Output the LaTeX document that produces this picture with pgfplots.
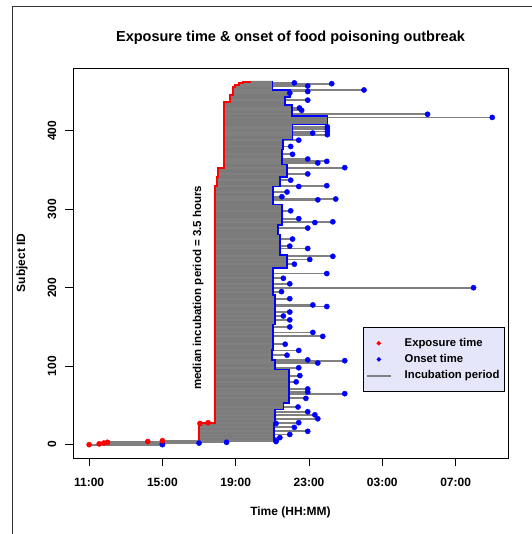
\documentclass[border=0pt]{standalone}
\usepackage{pgfplots}
\usepackage{pgfplotstable}
\pgfplotsset{compat=1.18}
\usepackage{fontspec}
\setmainfont{Liberation Sans}
\definecolor{lavender}{RGB}{230,230,250}
\definecolor{linegray}{RGB}{123,123,123}
\definecolor{segray}{RGB}{128,128,128}

% subjects whose incubation line sticks out of the dense block: id, exposure (h), onset (h); 24 = midnight
\pgfplotstableread{
id e o
0 11.00 15.00
1 11.55 15.00
2 11.80 17.00
3 12.00 18.50
4 14.20 21.20
5 15.00 21.20
9 17.00 21.41
13 17.00 21.95
17 17.00 22.93
22 17.00 22.20
27 17.05 21.20
28 17.49 22.44
33 17.87 23.48
38 17.87 23.32
42 17.87 22.93
48 17.87 22.40
59 17.87 22.83
65 17.87 24.95
67 17.87 22.93
71 17.87 22.93
80 17.87 22.30
88 17.87 22.50
98 17.87 22.44
104 17.87 23.48
107 17.87 24.95
108 17.87 22.93
114 17.87 21.80
120 17.87 22.44
128 17.87 21.70
138 17.87 23.75
143 17.87 23.21
150 17.87 21.95
159 17.87 21.95
164 17.87 21.60
169 17.87 21.95
176 17.87 23.97
178 17.87 23.21
186 17.87 21.95
195 17.87 21.50
200 17.87 31.98
205 17.87 21.95
212 17.87 21.60
218 17.87 23.97
230 17.87 22.20
236 17.87 23.04
240 17.87 24.30
250 17.87 22.93
253 17.87 21.95
262 17.87 22.10
276 17.87 22.93
283 17.87 23.32
284 17.87 24.30
288 17.87 22.44
298 17.87 22.00
312 17.87 23.48
313 17.87 24.46
316 17.87 21.52
322 17.87 21.80
329 17.87 22.44
330 17.98 23.97
337 17.98 22.00
345 18.03 22.93
353 18.36 24.95
359 18.36 23.48
361 18.36 23.97
364 18.36 22.93
370 18.36 22.10
380 18.36 22.00
388 18.36 22.44
395 18.36 24.00
397 18.36 23.20
399 18.36 24.00
402 18.36 24.00
405 18.36 24.00
417 18.36 33.00
421 18.36 29.47
426 18.36 22.60
429 18.36 22.48
439 18.68 22.93
448 18.85 21.95
450 18.85 22.93
452 18.85 26.00
457 18.96 22.93
460 19.17 24.24
461 19.39 22.20
}\prot

\pgfplotstableread{
id e
0 11.00
1 11.55
2 11.80
3 12.00
4 14.20
5 15.00
27 17.05
28 17.49
}\early

\begin{document}
\begin{tikzpicture}
\path[use as bounding box] (-73pt,-76pt) rectangle (458pt,458pt);
\draw[line width=0.8pt, black!80] (-61pt,-80pt) -- (-61pt,452pt) -- (470pt,452pt);
\begin{axis}[
  at={(0pt,0pt)}, anchor=south west,
  scale only axis, width=435pt, height=390pt,
  xmin=10.12, xmax=33.86, ymin=-17, ymax=480,
  axis line style={line width=0.8pt},
  tick style={black, line width=0.8pt},
  tick align=outside, major tick length=8pt,
  xtick pos=bottom, ytick pos=left,
  xtick={11,15,19,23,27,31},
  xticklabels={11:00,15:00,19:00,23:00,03:00,07:00},
  ytick={0,100,200,300,400},
  /pgf/number format/assume math mode=true,
  ticklabel style={font=\bfseries\fontsize{12}{14}\selectfont, inner sep=0pt},
  xticklabel style={anchor=north},
  xticklabel shift=11.5pt,
  yticklabel style={rotate=90, anchor=south},
  yticklabel shift=8.5pt,
  title={Exposure time \& onset of food poisoning outbreak},
  every axis title/.style={at={(axis description cs:0.5,1.0769)}, anchor=center, inner sep=0pt, font=\bfseries\fontsize{14.5}{16}\selectfont},
  xlabel={Time (HH:MM)},
  ylabel={Subject ID},
  every axis x label/.style={at={(axis description cs:0.5,-0.1385)}, anchor=center, inner sep=0pt, font=\bfseries\fontsize{12}{14}\selectfont},
  every axis y label/.style={at={(axis description cs:-0.1172,0.5)}, rotate=90, anchor=center, inner sep=0pt, font=\bfseries\fontsize{12}{14}\selectfont},
  legend style={at={(axis description cs:0.6667,0.3359)}, anchor=north west,
    fill=lavender, draw=black, line width=0.8pt,
    inner xsep=2.5pt, inner ysep=8.5pt, row sep=1.5pt,
    font=\bfseries\fontsize{11.3}{13}\selectfont,
    nodes={text depth=2.5pt},
    /tikz/every odd column/.append style={column sep=11pt}},
  legend cell align=left,
  clip=false,
]
% dense block of incubation periods
\addplot[fill=linegray, draw=none, forget plot] coordinates {
 (17.00,5.5) (17.00,27.5) (17.87,27.5) (17.87,329.5) (17.98,329.5) (17.98,341.5)
 (18.03,341.5) (18.03,352.5) (18.36,352.5) (18.36,436.5) (18.68,436.5) (18.68,445.5)
 (18.85,445.5) (18.85,455.5) (18.96,455.5) (18.96,458.5) (19.17,458.5) (19.17,460.5)
 (19.39,460.5) (19.39,462.5) (19.77,462.5) (19.77,463.5)
 (21.00,463.5) (21.00,452) (21.95,452) (21.95,443) (21.68,443) (21.68,433)
 (22.06,433) (22.06,419) (24.00,419) (24.00,408) (22.10,408) (22.10,389)
 (21.57,389) (21.57,376) (21.52,376) (21.52,357) (21.79,357) (21.79,341)
 (21.41,341) (21.41,329) (21.03,329) (21.03,306) (21.52,306) (21.52,280)
 (21.30,280) (21.30,268) (21.41,268) (21.41,242) (21.79,242) (21.79,225)
 (21.03,225) (21.03,191) (21.14,191) (21.14,153) (21.03,153) (21.03,121)
 (20.97,121) (20.97,108) (21.14,108) (21.14,96) (21.90,96) (21.90,53)
 (21.60,53) (21.60,45) (21.14,45) (21.14,28) (21.10,28) (21.10,5.5)
} -- cycle;
% individual incubation lines (exposure -> onset)
\addplot[draw=none, mark=none, forget plot,
  error bars/.cd, x dir=plus, x explicit, error mark=none,
  error bar style={line width=1.8pt, draw=segray}]
  table[x=e, y=id, x error expr=\thisrow{o}-\thisrow{e}] {\prot};
% exposure boundary (red)
\addplot[red, line width=2pt, forget plot] coordinates {
 (17.00,5.5) (17.00,27.5) (17.87,27.5) (17.87,329.5) (17.98,329.5) (17.98,341.5)
 (18.03,341.5) (18.03,352.5) (18.36,352.5) (18.36,436.5) (18.68,436.5) (18.68,445.5)
 (18.85,445.5) (18.85,455.5) (18.96,455.5) (18.96,458.5) (19.17,458.5) (19.17,460.5)
 (19.39,460.5) (19.39,462.5) (19.77,462.5) (19.77,463.5)
};
% onset boundary (blue)
\addplot[blue, line width=1.6pt, forget plot] coordinates {
 (21.00,463.5) (21.00,452) (21.95,452) (21.95,443) (21.68,443) (21.68,433)
 (22.06,433) (22.06,419) (24.00,419) (24.00,408) (22.10,408) (22.10,389)
 (21.57,389) (21.57,376) (21.52,376) (21.52,357) (21.79,357) (21.79,341)
 (21.41,341) (21.41,329) (21.03,329) (21.03,306) (21.52,306) (21.52,280)
 (21.30,280) (21.30,268) (21.41,268) (21.41,242) (21.79,242) (21.79,225)
 (21.03,225) (21.03,191) (21.14,191) (21.14,153) (21.03,153) (21.03,121)
 (20.97,121) (20.97,108) (21.14,108) (21.14,96) (21.90,96) (21.90,53)
 (21.60,53) (21.60,45) (21.14,45) (21.14,28) (21.10,28) (21.10,5.5)
};
\addplot[only marks, mark=*, mark size=2.6pt, blue, forget plot] table[x=o, y=id] {\prot};
\addplot[only marks, mark=*, mark size=2.6pt, red, forget plot] table[x=e, y=id] {\early};
\node[rotate=90, font=\bfseries\fontsize{11.5}{13}\selectfont, inner sep=0pt] at (axis cs:16.95,200) {median incubation period = 3.5 hours};
% legend
\addlegendimage{only marks, mark=*, red, legend image code/.code={\path (0pt,0pt) (24pt,0pt); \draw[red, mark=*, mark size=1.8pt, only marks] plot coordinates {(12pt,0pt)};}}
\addlegendentry{Exposure time}
\addlegendimage{only marks, mark=*, blue, legend image code/.code={\path (0pt,0pt) (24pt,0pt); \draw[blue, mark=*, mark size=1.8pt, only marks] plot coordinates {(12pt,0pt)};}}
\addlegendentry{Onset time}
\addlegendimage{segray, legend image code/.code={\draw[segray, line width=1.8pt] plot coordinates {(0pt,0pt) (24pt,0pt)};}}
\addlegendentry{Incubation period}
\end{axis}
\end{tikzpicture}
\end{document}
